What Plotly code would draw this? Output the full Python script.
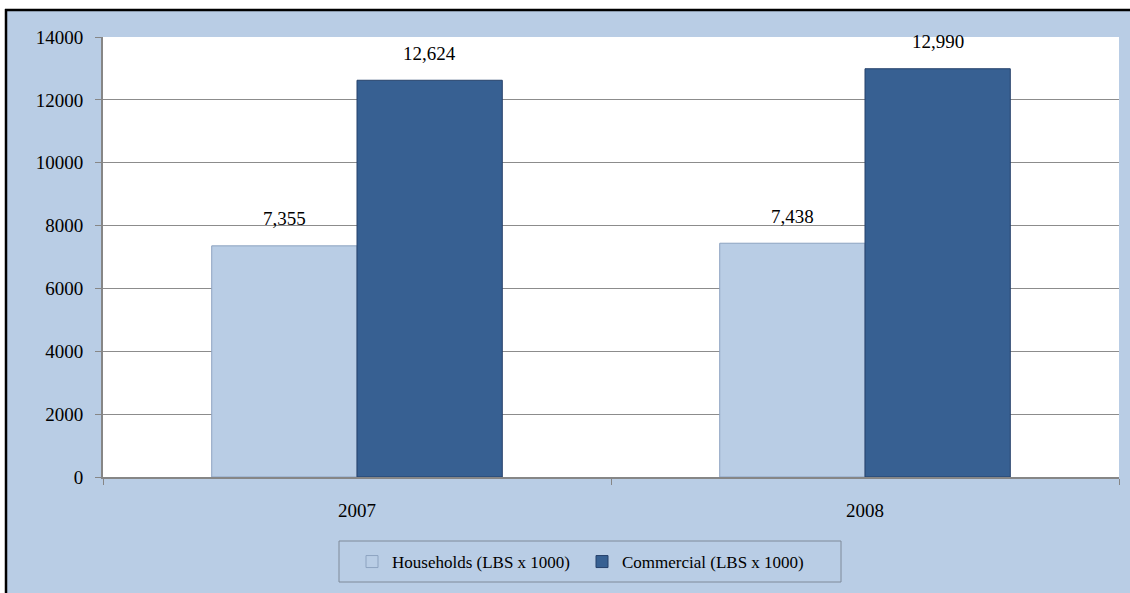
import plotly.graph_objects as go

categories = ["2007", "2008"]
households = [7355, 7438]
commercial = [12624, 12990]
series_names = ["Households (LBS x 1000)", "Commercial (LBS x 1000)"]
y_ticks = [0, 2000, 4000, 6000, 8000, 10000, 12000, 14000]

W, H = 1130, 593
L, R, T, B = 103, 11, 37, 116
pw, ph = W - L - R, H - T - B

def px_x(p):
    return (p - L) / pw

def px_y(p):
    return (H - B - p) / ph

BG = "#B9CDE5"
DARK = "#376092"
FONT = "Liberation Serif, Times New Roman, serif"
bargap = 0.428

fig = go.Figure()
fig.add_trace(go.Bar(x=categories, y=households, name=series_names[0],
                     marker=dict(color=BG, line=dict(color="#8DA3C0", width=1))))
fig.add_trace(go.Bar(x=categories, y=commercial, name=series_names[1],
                     marker=dict(color=DARK, line=dict(color="#25406A", width=1))))

w = (1 - bargap) / 2
annotations = []
for i in range(len(categories)):
    for vals, off in ((households, -w / 2), (commercial, w / 2)):
        annotations.append(dict(x=i + off, y=vals[i], xref="x", yref="y",
                                text=f"{vals[i]:,}", showarrow=False,
                                yanchor="middle", yshift=27,
                                font=dict(family=FONT, size=19, color="black")))

shapes = [
    dict(type="rect", xref="paper", yref="paper", layer="below",
         x0=px_x(6), x1=px_x(W + 5), y0=px_y(H + 5), y1=px_y(10),
         fillcolor=BG, line=dict(width=0)),
    dict(type="line", xref="paper", yref="paper", layer="below",
         x0=px_x(6), x1=px_x(6), y0=px_y(H + 5), y1=px_y(9),
         line=dict(color="black", width=2.5)),
    dict(type="line", xref="paper", yref="paper", layer="below",
         x0=px_x(5), x1=px_x(W + 5), y0=px_y(10), y1=px_y(10),
         line=dict(color="black", width=2.5)),
    dict(type="rect", xref="paper", yref="paper", layer="below",
         x0=0, x1=1, y0=0, y1=1, fillcolor="white", line=dict(width=0)),
    dict(type="rect", xref="paper", yref="paper", layer="below",
         x0=px_x(339), x1=px_x(841), y0=px_y(582), y1=px_y(541),
         fillcolor=BG, line=dict(color="#7F8A99", width=1)),
]

fig.update_layout(
    width=W, height=H,
    margin=dict(l=L, r=R, t=T, b=B),
    paper_bgcolor="white", plot_bgcolor="rgba(0,0,0,0)",
    barmode="group", bargap=bargap, bargroupgap=0,
    font=dict(family=FONT, size=19, color="black"),
    showlegend=True,
    legend=dict(orientation="h", x=px_x(352), xanchor="left",
                y=px_y(562), yanchor="middle",
                bgcolor="rgba(0,0,0,0)", borderwidth=0,
                font=dict(family=FONT, size=17, color="black"),
                entrywidth=185, entrywidthmode="pixels"),
    shapes=shapes,
    annotations=annotations,
)
fig.update_xaxes(type="category", showgrid=False, showline=True,
                 linecolor="#868686", linewidth=2, ticks="outside",
                 tickson="boundaries", ticklen=6, tickcolor="#868686",
                 tickwidth=1, ticklabelstandoff=15,
                 tickfont=dict(family=FONT, size=19), mirror=False)
fig.update_yaxes(range=[0, 14000], tickvals=y_ticks,
                 ticktext=[str(v) for v in y_ticks],
                 showgrid=True, gridcolor="#8C8C8C", gridwidth=1,
                 showline=True, linecolor="#868686", linewidth=2,
                 ticks="outside", ticklen=6, tickcolor="#868686",
                 ticklabelstandoff=8, zeroline=False,
                 tickfont=dict(family=FONT, size=19))

fig.write_html("out.html",
               config={"displayModeBar": False},
               post_script=("document.body.style.margin='0';"
                            "document.body.style.padding='0';"
                            "document.body.style.overflow='hidden';"
                            "document.documentElement.style.overflow='hidden';"))
